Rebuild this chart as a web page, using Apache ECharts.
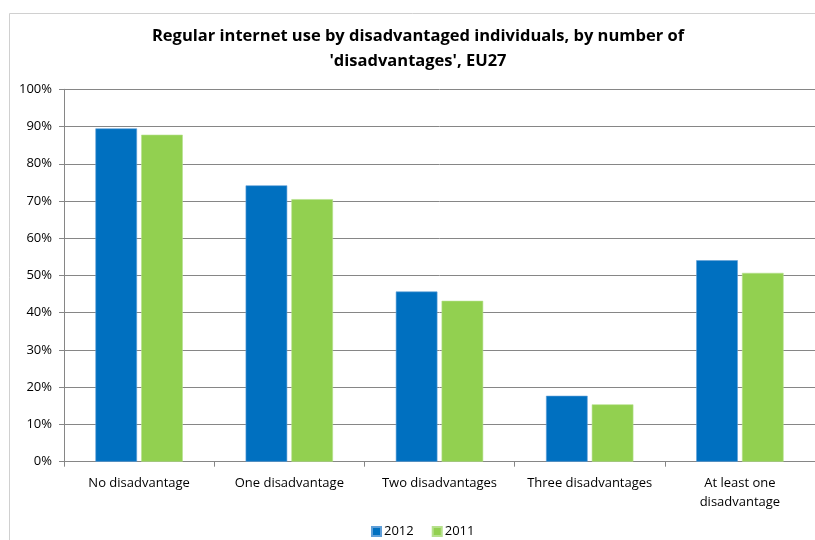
<!DOCTYPE html>
<html>
<head>
<meta charset="utf-8">
<script src="https://cdn.jsdelivr.net/npm/echarts@6/dist/echarts.min.js"></script>
<style>
  html, body { margin: 0; padding: 0; background: #fff; }
  #chart { width: 815px; height: 540px; }
</style>
</head>
<body>
<div id="chart"></div>
<script>
// Share of regular internet users by number of disadvantages (EU27), in %
const categories = ['No disadvantage', 'One disadvantage', 'Two disadvantages', 'Three disadvantages', 'At least one\ndisadvantage'];
const values2012 = [89.5, 74.2, 45.7, 17.7, 54.1];
const values2011 = [87.8, 70.5, 43.2, 15.4, 50.7];
const seriesNames = ['2012', '2011'];
const yTicks = { min: 0, max: 100, step: 10 };

const chart = echarts.init(document.getElementById('chart'), null, { renderer: 'canvas' });
const labelFont = "'Open Sans', 'Noto Sans', sans-serif";

chart.setOption({
  animation: false,
  backgroundColor: '#ffffff',
  title: {
    text: "Regular internet use by disadvantaged individuals, by number of\n'disadvantages', EU27",
    left: 413,
    top: 19,
    textAlign: 'center',
    textStyle: {
      fontFamily: labelFont,
      fontWeight: 'bold',
      fontSize: 16.5,
      lineHeight: 25,
      color: '#000000'
    }
  },
  graphic: [{
    type: 'rect',
    silent: true,
    shape: { x: 9.5, y: 13.5, width: 900, height: 600 },
    style: { fill: 'none', stroke: '#d0d0d0', lineWidth: 1 }
  }],
  legend: {
    data: seriesNames,
    bottom: -3,
    left: 366,
    itemWidth: 9,
    itemHeight: 9,
    itemGap: 18,
    icon: 'rect',
    textStyle: { fontFamily: labelFont, fontSize: 13, color: '#000', padding: [0, 0, 0, -2] }
  },
  grid: { left: 64, right: 0, top: 89.3, bottom: 78.3, containLabel: false },
  xAxis: {
    type: 'category',
    data: categories,
    axisLine: { lineStyle: { color: '#868686', width: 1 } },
    axisTick: { show: true, length: 5, lineStyle: { color: '#868686' } },
    axisLabel: { fontFamily: labelFont, fontSize: 13, color: '#000', margin: 12, lineHeight: 19, interval: 0 }
  },
  yAxis: {
    type: 'value',
    min: yTicks.min,
    max: yTicks.max,
    interval: yTicks.step,
    axisLine: { show: true, lineStyle: { color: '#868686', width: 1 } },
    axisTick: { show: true, length: 5, lineStyle: { color: '#868686' } },
    splitLine: { lineStyle: { color: '#868686', width: 1 } },
    axisLabel: { fontFamily: labelFont, fontSize: 13, color: '#000', margin: 12, formatter: '{value}%' }
  },
  series: [
    {
      name: seriesNames[0],
      type: 'bar',
      data: values2012,
      barWidth: '27.7%',
      barGap: '10%',
      itemStyle: { color: '#0070C0', borderColor: '#5f9fd8', borderWidth: 0.6 }
    },
    {
      name: seriesNames[1],
      type: 'bar',
      data: values2011,
      barWidth: '27.7%',
      itemStyle: { color: '#92D050', borderColor: '#b6e08c', borderWidth: 0.6 }
    }
  ]
});
</script>
</body>
</html>
